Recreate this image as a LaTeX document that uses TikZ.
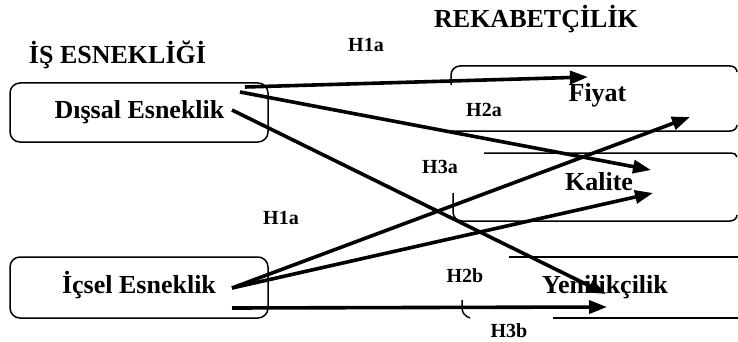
\documentclass[tikz,border=0pt]{standalone}
\usepackage{fontspec}
\setmainfont{Liberation Serif}
\usetikzlibrary{arrows.meta}
\begin{document}
\begin{tikzpicture}[x=1pt,y=-1pt,
  bigtxt/.style={font=\fontsize{26}{30}\selectfont\bfseries, inner sep=0pt, anchor=base},
  htxt/.style={font=\fontsize{20}{24}\selectfont\bfseries, inner sep=0pt, anchor=base},
  leftbox/.style={draw, line width=1.5pt, rounded corners=10pt},
  frag/.style={line width=1.5pt},
  link/.style={line width=3.6pt, -{Triangle[length=18pt,width=13pt]}}]
\useasboundingbox (0,0) rectangle (738,342);

% left boxes
\draw[leftbox] (10,83) rectangle (268,142);
\draw[leftbox] (10,257) rectangle (268,318);

% fragments of right boxes
\draw[frag] (451,85) -- (451,75) to[out=90,in=180] (460,66) -- (730,66) to[out=0,in=90] (737,72);
\draw[frag] (445,131) -- (730,131) to[out=0,in=-90] (737,125);
\draw[frag] (484,153) -- (731,153) to[out=0,in=90] (737,157);
\draw[frag] (453,193) -- (453,212) to[out=-90,in=180] (462,221) -- (730,221) to[out=0,in=-90] (737,215);
\draw[frag] (509,257) -- (738,257);
\draw[frag] (462,300) -- (462,308) to[out=-90,in=160] (470,318);
\draw[frag] (553,318) -- (738,318);

% titles and texts
\node[bigtxt] (t1) at (117.5,64) {İŞ ESNEKLİĞİ};
\node[bigtxt] (t2) at (536,28) {REKABETÇİLİK};
\node[bigtxt] (dis) at (139.5,118) {Dışsal Esneklik};
\node[bigtxt] (ic) at (139,293) {İçsel Esneklik};
\node[bigtxt] (fiy) at (597.5,102) {Fiyat};
\node[bigtxt] (kal) at (599,190) {Kalite};
\node[bigtxt] (yen) at (605,293) {Yenilikçilik};

\node[htxt] (h1a) at (366,52) {H1a};
\node[htxt] (h2a) at (484,117) {H2a};
\node[htxt] (h3a) at (440,173) {H3a};
\node[htxt] (h1b) at (281,224) {H1a};
\node[htxt] (h2b) at (465,282) {H2b};
\node[htxt] (h3b) at (509,337) {H3b};

% arrow ends
\coordinate (d1) at (245,87);
\coordinate (d2) at (240,92);
\coordinate (d3) at (232,110);
\coordinate (i1) at (232,288);
\coordinate (i2) at (232,308);
\coordinate (fA) at (588,77);
\coordinate (fB) at (690,117);
\coordinate (kA) at (651,170);
\coordinate (kB) at (653,193);
\coordinate (yA) at (606,294);
\coordinate (yB) at (607,307);

\draw[link] (d1) -- (fA);
\draw[link] (d2) -- (kA);
\draw[link] (d3) -- (yA);
\draw[link] (i1) -- (fB);
\draw[link] (i1) -- (kB);
\draw[link] (i2) -- (yB);
\end{tikzpicture}
\end{document}
